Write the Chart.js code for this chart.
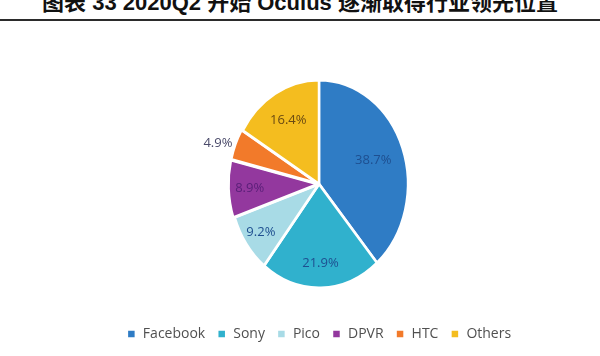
<!DOCTYPE html>
<html>
<head>
<meta charset="utf-8">
<script src="https://cdn.jsdelivr.net/npm/chart.js@4.4.0/dist/chart.umd.min.js"></script>
<style>
  html, body { margin: 0; padding: 0; background: #ffffff; }
  #wrap { position: relative; width: 600px; height: 356px; overflow: hidden; background: #fff; }
  #title { position: absolute; left: 0; width: 600px; top: -8px; text-align: center;
           font-family: "Liberation Sans", "Noto Sans CJK SC", sans-serif; font-weight: bold;
           font-size: 22px; line-height: 22px; color: #111; white-space: nowrap; letter-spacing: 0px; }
  #rule { position: absolute; left: 0; top: 19px; width: 600px; height: 2px; background: #2b2b2b; }
  #c { position: absolute; left: 0; top: 0; }
</style>
</head>
<body>
<div id="wrap">
  <div id="title">图表 33 2020Q2 开始 Oculus 逐渐取得行业领先位置</div>
  <div id="rule"></div>
  <canvas id="c" width="600" height="356"></canvas>
</div>
<script>
const categories = ["Facebook", "Sony", "Pico", "DPVR", "HTC", "Others"];
const shares = [38.7, 21.9, 9.2, 8.9, 4.9, 16.4];
const valueLabels = ["38.7%", "21.9%", "9.2%", "8.9%", "4.9%", "16.4%"];

const sliceColors = ["#2f7cc5", "#30b1cd", "#a8dbe6", "#93389e", "#f27a2a", "#f4bd1f"];
const labelColors = ["#1e4f90", "#1e4f90", "#1e4f90", "#5a1f78", "#4a4a6a", "#6a4a12"];
const labelRadius = [0.65, 0.76, 0.8, 0.78, 1.05, 0.7];
const yStretch = 1.168;

const ellipsePlugin = {
  id: 'ellipse',
  beforeDatasetsDraw(chart) {
    const arc = chart.getDatasetMeta(0).data[0];
    const cx = arc.x, cy = arc.y;
    const ctx = chart.ctx;
    ctx.save();
    ctx.translate(cx, cy);
    ctx.scale(1, yStretch);
    ctx.translate(-cx, -cy);
  },
  afterDatasetsDraw(chart) {
    chart.ctx.restore();
    const ctx = chart.ctx;
    const meta = chart.getDatasetMeta(0);
    ctx.save();
    ctx.font = '13px "Open Sans", "Noto Sans", sans-serif';
    ctx.textBaseline = 'middle';
    meta.data.forEach((a, i) => {
      const mid = (a.startAngle + a.endAngle) / 2;
      const r = a.outerRadius * labelRadius[i];
      const x = a.x + Math.cos(mid) * r;
      const y = a.y + Math.sin(mid) * r * yStretch;
      ctx.fillStyle = labelColors[i];
      ctx.textAlign = labelRadius[i] > 1 ? 'right' : 'center';
      ctx.fillText(valueLabels[i], x, y);
    });
    ctx.restore();
  }
};

new Chart(document.getElementById('c'), {
  type: 'pie',
  data: {
    labels: categories,
    datasets: [{
      data: shares,
      backgroundColor: sliceColors,
      borderColor: '#ffffff',
      borderWidth: 2.5,
      offset: [0, 0, 0, 4, 3, 0],
      radius: 89,
      clip: false
    }]
  },
  options: {
    responsive: false,
    animation: false,
    layout: { padding: { left: 38, right: 0, top: 53, bottom: 5 } },
    plugins: {
      tooltip: { enabled: false },
      legend: {
        position: 'bottom',
        labels: {
          usePointStyle: true,
          pointStyle: 'rect',
          boxWidth: 9,
          boxHeight: 9,
          padding: 12,
          color: '#505050',
          font: { family: '"Open Sans", "Noto Sans", sans-serif', size: 14 }
        }
      }
    }
  },
  plugins: [ellipsePlugin]
});
</script>
</body>
</html>
